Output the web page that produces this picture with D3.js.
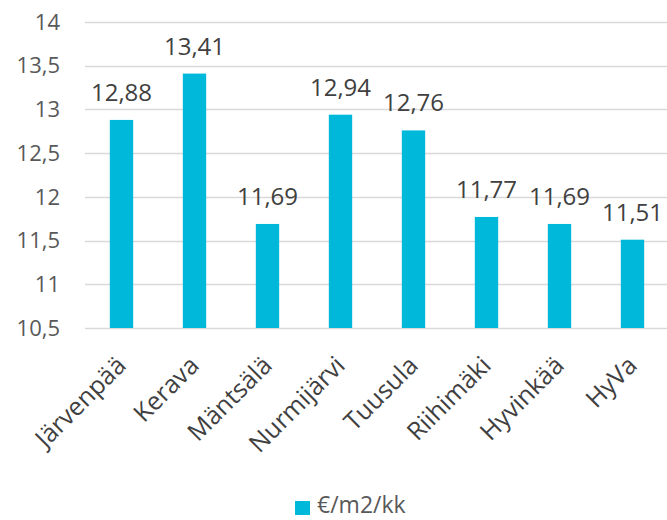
<!DOCTYPE html>
<meta charset="utf-8">
<style>
body { margin: 0; background: #fff; }
text { font-family: "Open Sans", sans-serif; }
</style>
<body>
<script src="https://d3js.org/d3.v7.min.js"></script>
<script>
var cities = ["Järvenpää", "Kerava", "Mäntsälä", "Nurmijärvi", "Tuusula", "Riihimäki", "Hyvinkää", "HyVa"];
var prices = [12.88, 13.41, 11.69, 12.94, 12.76, 11.77, 11.69, 11.51];
var yTicks = [10.5, 11, 11.5, 12, 12.5, 13, 13.5, 14];
var seriesName = "€/m2/kk";

var W = 667, H = 520;
var fmt = function(v) { return String(v).replace(".", ","); };

var svg = d3.select("body").append("svg")
    .attr("width", W)
    .attr("height", H);

var x = d3.scaleBand()
    .domain(cities)
    .range([85, 669])
    .paddingInner(0.68)
    .paddingOuter(0.34);

var y = d3.scaleLinear()
    .domain([10.5, 14])
    .range([328, 22]);

// gridlines
svg.append("g")
  .selectAll("line")
  .data(yTicks)
  .enter().append("line")
    .attr("x1", 85)
    .attr("x2", W)
    .attr("y1", function(d) { return Math.round(y(d)) + 0.5; })
    .attr("y2", function(d) { return Math.round(y(d)) + 0.5; })
    .style("stroke", "#d9d9d9")
    .style("stroke-width", 1.5);

// y labels
svg.append("g")
  .selectAll("text")
  .data(yTicks)
  .enter().append("text")
    .attr("x", 60)
    .attr("y", function(d) { return y(d); })
    .attr("dy", "0.35em")
    .attr("text-anchor", "end")
    .style("font-size", "22px")
    .style("fill", "#595959")
    .text(fmt);

// bars
svg.append("g")
  .selectAll("rect")
  .data(prices)
  .enter().append("rect")
    .attr("x", function(d, i) { return x(cities[i]); })
    .attr("width", x.bandwidth())
    .attr("y", function(d) { return y(d); })
    .attr("height", function(d) { return y(10.5) - y(d); })
    .style("fill", "#00b8d9");

// value labels
svg.append("g")
  .selectAll("text")
  .data(prices)
  .enter().append("text")
    .attr("x", function(d, i) { return x(cities[i]) + x.bandwidth() / 2; })
    .attr("y", function(d) { return y(d) - 19; })
    .attr("text-anchor", "middle")
    .style("font-size", "24px")
    .style("fill", "#404040")
    .text(fmt);

// category labels
svg.append("g")
  .selectAll("text")
  .data(cities)
  .enter().append("text")
    .attr("transform", function(d) {
      return "translate(" + (x(d) + x.bandwidth() / 2 + 6) + ",367) rotate(-45)";
    })
    .attr("text-anchor", "end")
    .style("font-size", "25px")
    .style("fill", "#404040")
    .text(function(d) { return d; });

// legend
var legend = svg.append("g").attr("transform", "translate(295,501)");
legend.append("rect")
    .attr("width", 15)
    .attr("height", 14)
    .style("fill", "#00b8d9");
legend.append("text")
    .attr("x", 22)
    .attr("y", 12)
    .style("font-size", "23px")
    .style("fill", "#595959")
    .text(seriesName);
</script>
